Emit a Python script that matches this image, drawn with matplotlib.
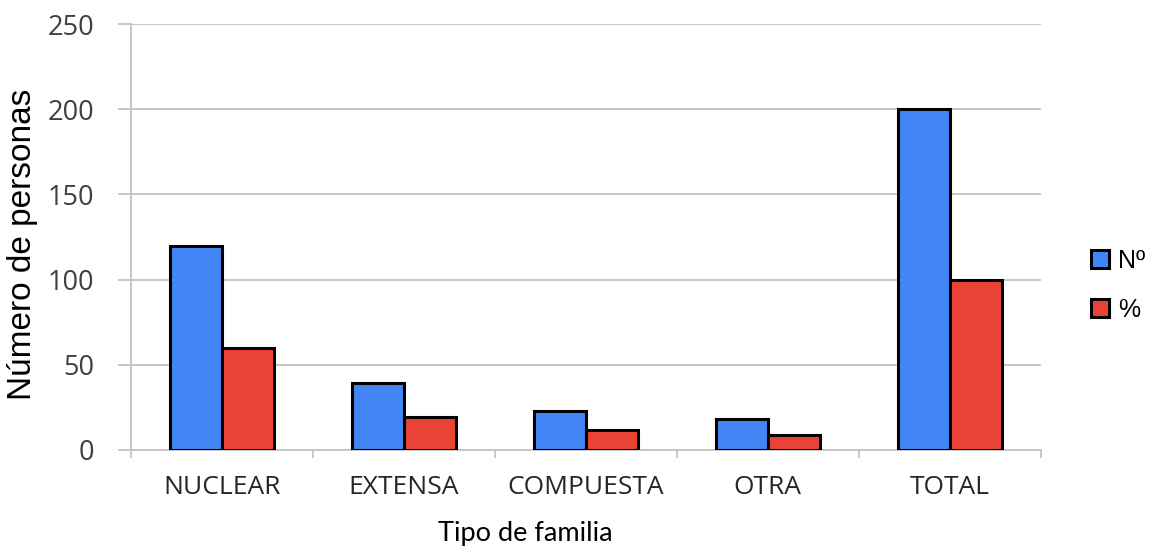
import matplotlib
matplotlib.use("Agg")
import matplotlib.pyplot as plt
import numpy as np

categorias = ["NUCLEAR", "EXTENSA", "COMPUESTA", "OTRA", "TOTAL"]
numero = [120, 39, 23, 18, 200]
porcentaje = [60, 19.5, 11.5, 9, 100]
yticks = [0, 50, 100, 150, 200, 250]

azul = "#4285f4"
rojo = "#ea4335"
gris = "#c4c4c4"

fig = plt.figure(figsize=(11.6, 5.48), dpi=100)
ax = fig.add_axes([0.113, 0.179, 0.784, 0.777])

x = np.arange(len(categorias))
w = 0.286
ax.bar(x - w / 2, numero, w, color=azul, edgecolor="black", linewidth=2.2, label="Nº", zorder=3)
ax.bar(x + w / 2, porcentaje, w, color=rojo, edgecolor="black", linewidth=2.2, label="%", zorder=3)

ax.set_xlim(-0.5, len(categorias) - 0.5)
ax.set_ylim(0, 250)
ax.set_yticks(yticks)
ax.set_yticklabels([str(v) for v in yticks], fontsize=19.5, color="#404040", family="Open Sans")
ax.yaxis.grid(True, color=gris, linewidth=1.3, zorder=0)

# etiquetas en el centro, marcas entre categorias
ax.set_xticks(x)
ax.set_xticklabels(categorias, fontsize=19, color="#262626", family="Open Sans")
ax.set_xticks(np.arange(len(categorias) + 1) - 0.5, minor=True)
ax.tick_params(axis="x", which="major", length=0, pad=18)
ax.tick_params(axis="x", which="minor", length=6, color=gris, width=1.3)
ax.tick_params(axis="y", length=9.5, color=gris, width=1.3, pad=17)

for s in ["top", "right"]:
    ax.spines[s].set_visible(False)
for s in ["left", "bottom"]:
    ax.spines[s].set_color(gris)
    ax.spines[s].set_linewidth(1.3)

fig.text(0.019, 0.555, "Número de personas", rotation=90, va="center", ha="center",
         fontsize=24, family="Liberation Sans")
fig.text(0.453, 0.003, "Tipo de familia", ha="center", va="bottom", fontsize=19.5, family="Lato")

ax.legend(loc="center left", bbox_to_anchor=(1.055, 0.387), frameon=False,
          borderaxespad=0, borderpad=0,
          handlelength=0.75, handleheight=0.75, labelspacing=1.0, handletextpad=0.35,
          prop={"family": "Liberation Sans", "size": 18})

fig.savefig("out.png", dpi=100)
